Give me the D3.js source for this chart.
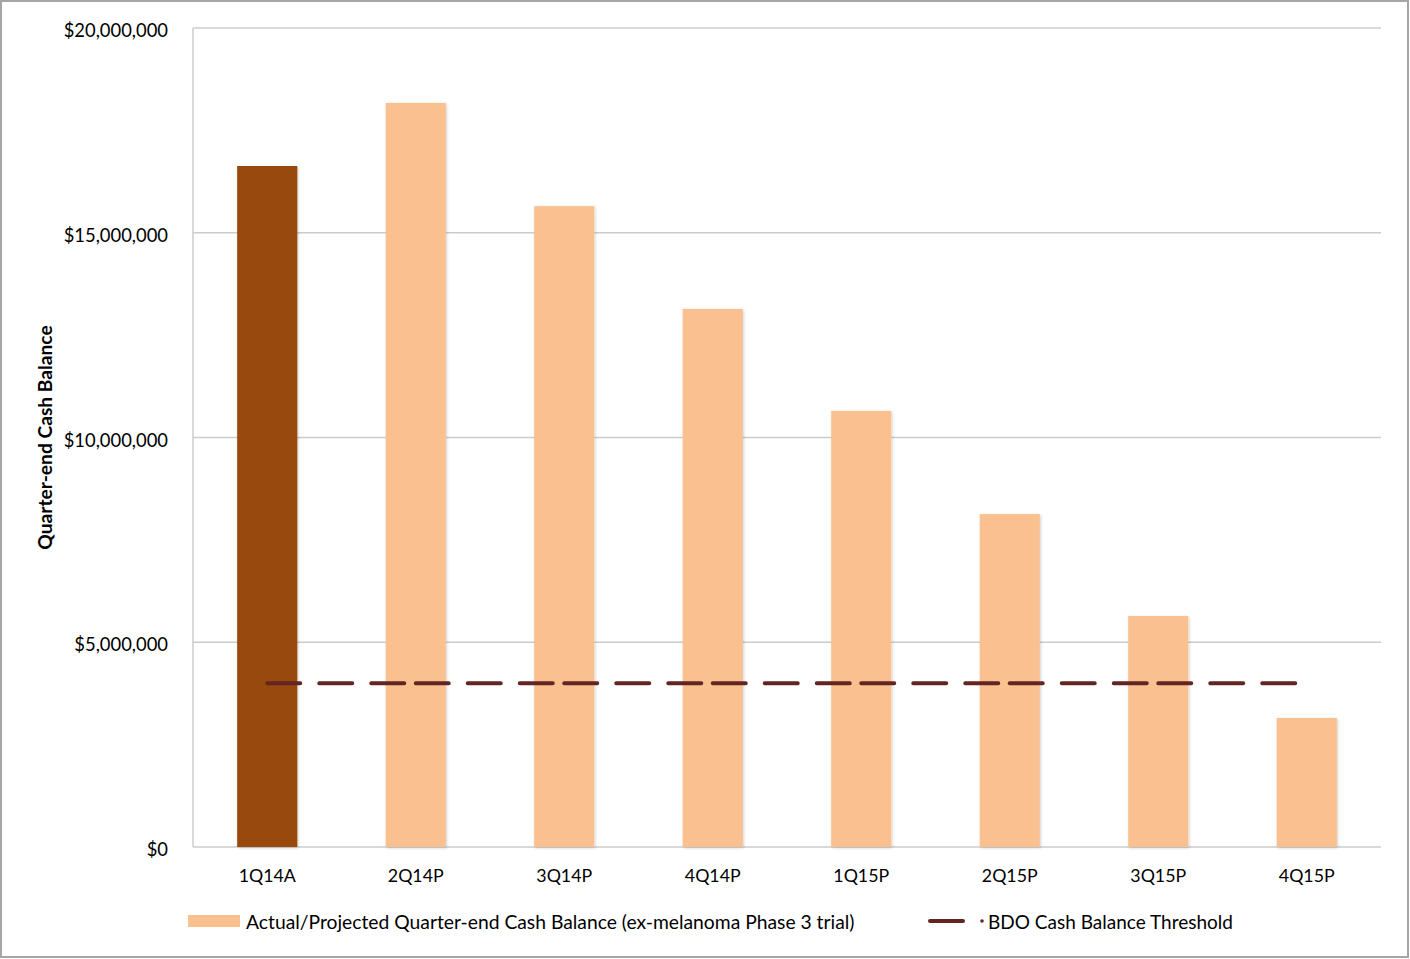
<!DOCTYPE html>
<html>
<head>
<meta charset="utf-8">
<script src="https://cdn.jsdelivr.net/npm/d3@7"></script>
<style>
  html, body { margin: 0; padding: 0; background: #fff; }
  svg { display: block; }
  text { font-family: Lato, "Open Sans", sans-serif; fill: #000; }
</style>
</head>
<body>
<svg id="chart" width="1410" height="959"></svg>
<script>
const categories = ["1Q14A", "2Q14P", "3Q14P", "4Q14P", "1Q15P", "2Q15P", "3Q15P", "4Q15P"];
const cashBalance = [16630000, 18170000, 15650000, 13140000, 10650000, 8130000, 5640000, 3150000];
const threshold = [4000000, 4000000, 4000000, 4000000, 4000000, 4000000, 4000000, 4000000];
const yTicks = [0, 5000000, 10000000, 15000000, 20000000];
const seriesNames = ["Actual/Projected Quarter-end Cash Balance (ex-melanoma Phase 3 trial)", "BDO Cash Balance Threshold"];
const yTitle = "Quarter-end Cash Balance";

const W = 1410, H = 959;
const m = { left: 193, right: 1381, top: 28, bottom: 847 };
const svg = d3.select("#chart");

// drop shadow filter
const defs = svg.append("defs");
const f = defs.append("filter").attr("id", "shadow").attr("x", "-20%").attr("y", "-5%").attr("width", "140%").attr("height", "110%");
f.append("feDropShadow").attr("dx", 1).attr("dy", 1).attr("stdDeviation", 1.5).attr("flood-color", "#000").attr("flood-opacity", 0.18);

// outer border
svg.append("rect").attr("x", 1).attr("y", 1).attr("width", W - 3).attr("height", H - 3)
  .attr("fill", "#fff").attr("stroke", "#a6a6a6").attr("stroke-width", 2);

const x = d3.scaleBand().domain(categories).range([m.left, m.right]).paddingInner(0).paddingOuter(0);
const y = d3.scaleLinear().domain([0, 20000000]).range([m.bottom, m.top]);
const barW = x.bandwidth() * 0.405;

// gridlines
svg.append("g").selectAll("line").data(yTicks).join("line")
  .attr("x1", m.left).attr("x2", m.right)
  .attr("y1", d => y(d)).attr("y2", d => y(d))
  .attr("stroke", "#cccccc").attr("stroke-width", 1.5);
// left axis line
svg.append("line").attr("x1", m.left).attr("x2", m.left).attr("y1", m.top).attr("y2", m.bottom)
  .attr("stroke", "#cccccc").attr("stroke-width", 1.5);

// y tick labels
const fmt = d => "$" + d3.format(",")(d);
svg.append("g").selectAll("text").data(yTicks).join("text")
  .attr("x", 168).attr("y", d => y(d) + 4.5)
  .attr("text-anchor", "end").attr("dominant-baseline", "middle")
  .attr("font-size", 18.4).text(fmt);

// y title
svg.append("text")
  .attr("transform", `translate(52,${(m.top + m.bottom) / 2}) rotate(-90)`)
  .attr("text-anchor", "middle").attr("font-size", 19.2).attr("font-weight", "bold")
  .text(yTitle);

// bars
svg.append("g").selectAll("rect").data(cashBalance).join("rect")
  .attr("x", (d, i) => x(categories[i]) + (x.bandwidth() - barW) / 2)
  .attr("width", barW)
  .attr("y", d => y(d))
  .attr("height", d => y(0) - y(d))
  .attr("fill", (d, i) => i === 0 ? "#984807" : "#fac090")
  .attr("filter", "url(#shadow)");

// x labels
svg.append("g").selectAll("text").data(categories).join("text")
  .attr("x", d => x(d) + x.bandwidth() / 2).attr("y", 882)
  .attr("text-anchor", "middle").attr("font-size", 17.8).text(d => d);

// threshold line: dash pattern restarts per segment
const pts = threshold.map((v, i) => [x(categories[i]) + x.bandwidth() / 2, y(v)]);
svg.append("g").selectAll("line").data(d3.pairs(pts)).join("line")
  .attr("x1", d => d[0][0]).attr("y1", d => d[0][1])
  .attr("x2", d => d[1][0]).attr("y2", d => d[1][1])
  .attr("stroke", "#632523").attr("stroke-width", 4)
  .attr("stroke-linecap", "round").attr("stroke-dasharray", "33,19");

// legend
const lg = svg.append("g");
lg.append("rect").attr("x", 188).attr("y", 915).attr("width", 52).attr("height", 12).attr("fill", "#fac090");
lg.append("text").attr("x", 246).attr("y", 929).attr("font-size", 19.3).text(seriesNames[0]);
lg.append("line").attr("x1", 930).attr("x2", 963).attr("y1", 921).attr("y2", 921)
  .attr("stroke", "#632523").attr("stroke-width", 4).attr("stroke-linecap", "round");
lg.append("circle").attr("cx", 982).attr("cy", 921).attr("r", 1.8).attr("fill", "#632523");
lg.append("text").attr("x", 988).attr("y", 929).attr("font-size", 19).text(seriesNames[1]);
</script>
</body>
</html>
